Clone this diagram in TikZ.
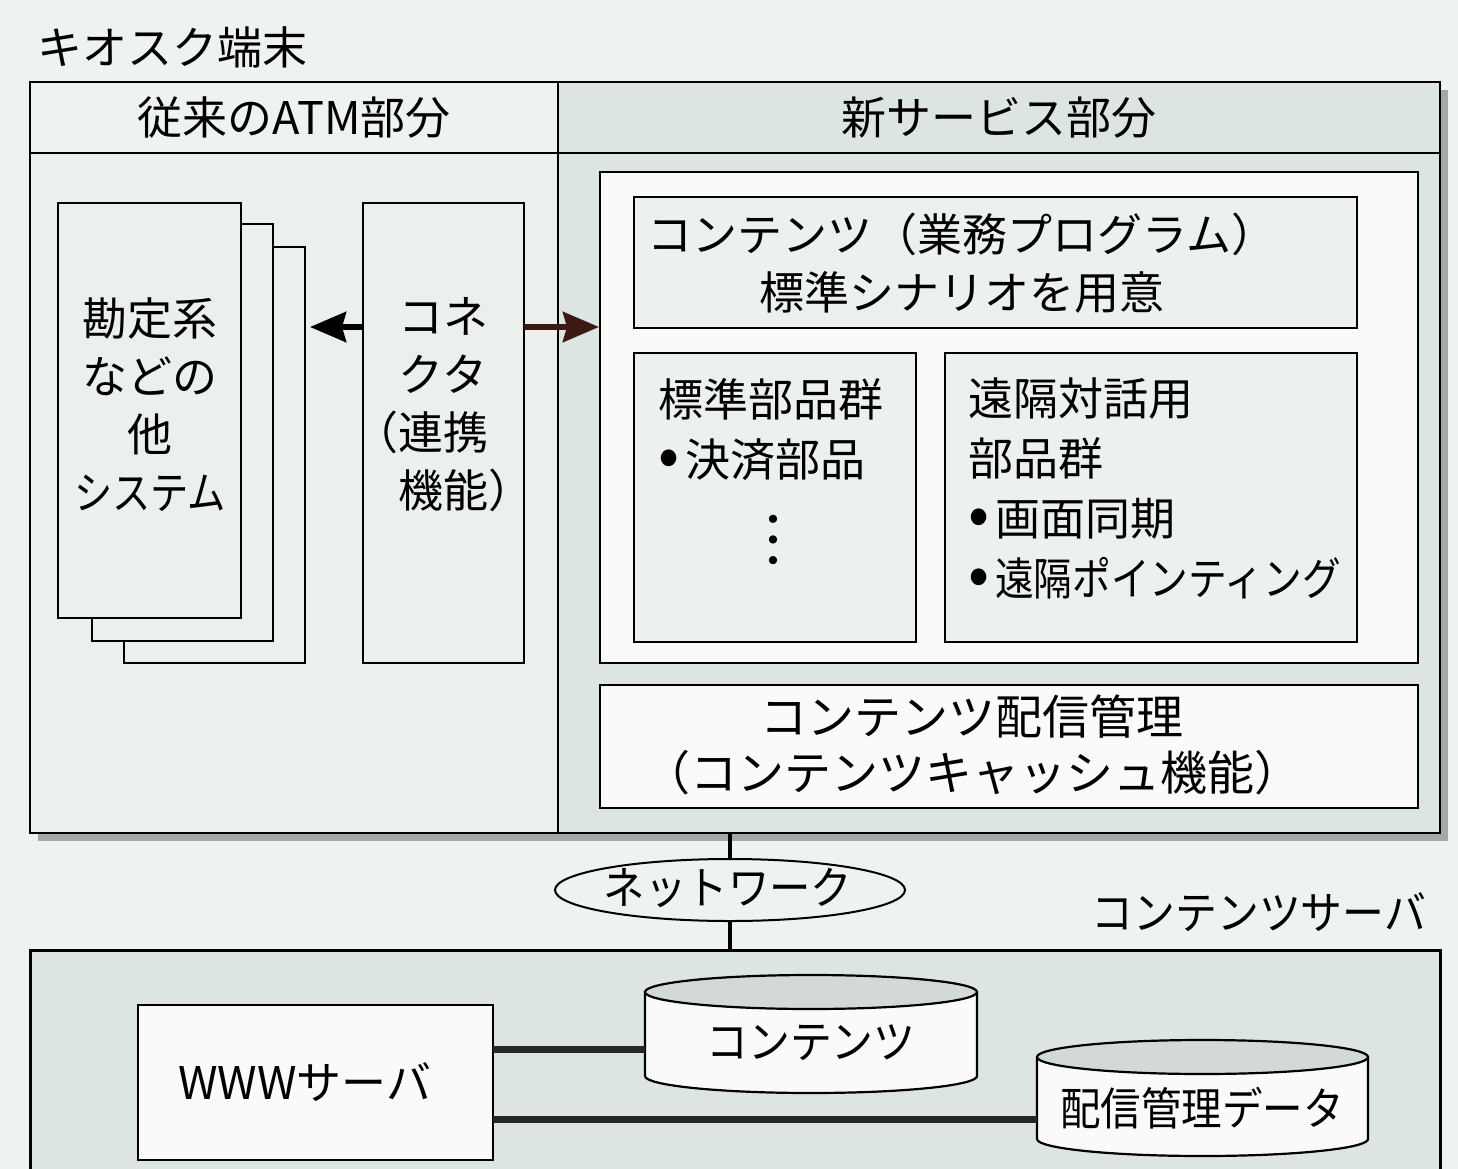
\documentclass[tikz,border=0pt]{standalone}
\usepackage{fontspec}
\setmainfont{Noto Sans CJK JP}
\usetikzlibrary{arrows.meta,calc,shapes.geometric}
\definecolor{pagebg}{HTML}{EEF3EF}
\definecolor{leftbg}{HTML}{EBF0EC}
\definecolor{rightbg}{HTML}{DCE5E1}
\definecolor{whitebg}{HTML}{FAFBF9}
\definecolor{lightbox}{HTML}{EDF1EE}
\definecolor{shadowc}{HTML}{A3AAA6}
\definecolor{cyltop}{HTML}{D3D9D5}
\definecolor{brownline}{HTML}{3B1A14}
\newcommand\jpsize{\fontsize{45}{58}\selectfont}
\newcommand\narrow[2]{\scalebox{#1}[1]{#2}}
\newcommand\bul{{\fontsize{62}{58}\selectfont •}\hspace{6pt}}
\tikzset{
  box/.style={draw=black, line width=2.2pt, inner sep=0pt, outer sep=0pt, anchor=north west},
  txt/.style={inner sep=0pt, outer sep=0pt, font=\jpsize, align=center},
  ltxt/.style={inner sep=0pt, outer sep=0pt, font=\jpsize, align=left},
  arrowline/.style={line width=6pt, -{Stealth[length=36pt,width=30pt,inset=4pt]}},
  thickline/.style={line width=7pt, draw=black!85},
  netline/.style={line width=4.5pt, draw=black},
  cylbody/.style={line width=2.2pt, draw=black, fill=whitebg},
  cyltopface/.style={line width=2.2pt, draw=black, fill=cyltop},
}
\begin{document}
\begin{tikzpicture}[x=1pt,y=-1pt]
\useasboundingbox (0,0) rectangle (1458,1169);
\fill[pagebg] (0,0) rectangle (1458,1169);
% title
\node[txt] (kiosk) at (172,47) {キオスク端末};
% kiosk frame with shadow
\fill[shadowc] (38,90) rectangle (1448,841);
\node[box, fill=leftbg, minimum width=528, minimum height=751] (atm) at (30,82) {};
\node[box, fill=rightbg, minimum width=882, minimum height=751] (svc) at (558,82) {};
\node[box, fill=pagebg, minimum width=528, minimum height=71, font=\jpsize] (atmhead) at (30,82) {従来のATM部分};
\node[box, fill=rightbg, minimum width=882, minimum height=71, font=\jpsize] (svchead) at (558,82) {新サービス部分};
% stacked systems
\node[box, fill=leftbg, minimum width=181, minimum height=416] (sys3) at (124,247) {};
\node[box, fill=leftbg, minimum width=181, minimum height=417] (sys2) at (92,224) {};
\node[box, fill=leftbg, minimum width=183, minimum height=415] (sys1) at (58,203) {};
\node[txt] (sys1text) at (150,405) {勘定系\\などの\\他\\\narrow{0.85}{システム}};
% connector
\node[box, fill=leftbg, minimum width=161, minimum height=460] (conn) at (363,203) {};
\node[txt] (conntext) at (443,405) {コネ\\クタ\\\llap{（}連携\\機能\rlap{）}};
% new service inner
\node[box, fill=whitebg, minimum width=818, minimum height=491] (inner) at (600,172) {};
\node[box, fill=lightbox, minimum width=723, minimum height=131] (contents) at (634,197) {};
\node[txt] (contentstext) at (962,263) {コンテンツ（業務プログラム）\\標準シナリオを用意};
\node[box, fill=lightbox, minimum width=282, minimum height=289] (std) at (634,353) {};
\node[ltxt, anchor=north west] (stdtext) at (658,378) {標準部品群\\[2pt]\bul 決済部品};
\node[inner sep=0pt, font=\fontsize{62}{62}\selectfont] (dots) at (773,540) {︙};
\node[box, fill=lightbox, minimum width=412, minimum height=289] (remote) at (945,353) {};
\node[ltxt, anchor=north west, font=\fontsize{45}{60}\selectfont] (remotetext) at (968,378) {遠隔対話用\\部品群\\\bul 画面同期\\\bul\narrow{0.86}{遠隔ポインティング}};
\node[box, fill=whitebg, minimum width=818, minimum height=123] (deliv) at (600,685) {};
\node[txt, font=\fontsize{47}{56}\selectfont] (delivtext) at (972,745) {コンテンツ配信管理\\（コンテンツキャッシュ機能）};
% arrows from connector
\coordinate (ay) at (0,327);
\draw[arrowline, black] (conn.west |- ay) -- ([xshift=5pt]sys3.east |- ay);
\draw[arrowline, brownline] (conn.east |- ay) -- ([xshift=-1pt]inner.west |- ay);
% content server
\node[box, fill=rightbg, line width=3pt, minimum width=1410, minimum height=240] (server) at (30,950) {};
\node[txt, anchor=east] (servertitle) at (1426,912) {\narrow{0.93}{コンテンツサーバ}};
% network
\node[draw=black, line width=2pt, fill=pagebg, ellipse, minimum width=350, minimum height=62, inner sep=0pt] (net) at (730,890) {};
\node[txt] (nettext) at (728,888) {\narrow{0.92}{ネットワーク}};
\draw[netline] (net.north |- svc.south) -- (net.north);
\draw[netline] (net.south) -- (net.south |- server.north);
% www server
\node[box, fill=whitebg, minimum width=355, minimum height=155] (www) at (138,1005) {};
\node[txt] (wwwtext) at (305,1082) {WWWサーバ};
% cylinders
\draw[cylbody] (645,992) -- (645,1076) arc[start angle=180, end angle=0, x radius=166, y radius=17] -- (977,992) -- cycle;
\draw[cyltopface] (811,992) ellipse[x radius=166, y radius=17];
\node[txt] (cyl1) at (811,1043) {\narrow{0.93}{コンテンツ}};
\draw[cylbody] (1037,1057) -- (1037,1139) arc[start angle=180, end angle=0, x radius=165.5, y radius=17] -- (1368,1057) -- cycle;
\draw[cyltopface] (1202.5,1057) ellipse[x radius=165.5, y radius=17];
\node[txt] (cyl2) at (1202,1108) {\narrow{0.9}{配信管理データ}};
\coordinate (c1in) at (645,1049);
\coordinate (c2in) at (1037,1119);
\draw[thickline] (www.east |- c1in) -- (c1in);
\draw[thickline] (www.east |- c2in) -- (c2in);
\end{tikzpicture}
\end{document}
